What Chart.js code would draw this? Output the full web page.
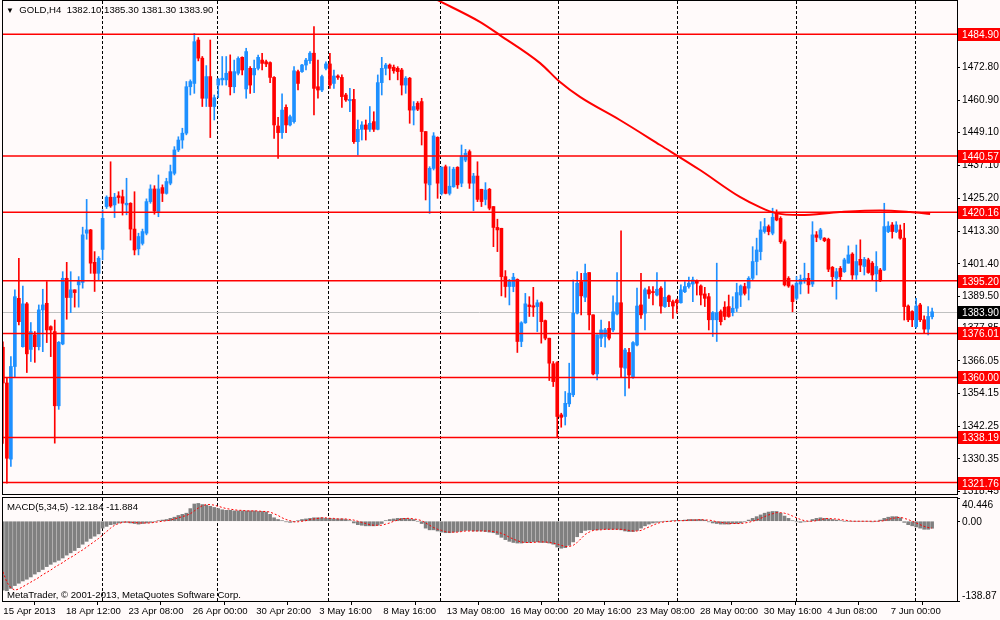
<!DOCTYPE html>
<html>
<head>
<meta charset="utf-8">
<title>GOLD,H4</title>
<script src="https://cdn.jsdelivr.net/npm/chart.js@4.4.0/dist/chart.umd.min.js"></script>
<style>
  html, body { margin: 0; padding: 0; background: #fffafa; }
  #wrap { position: relative; width: 1000px; height: 620px; overflow: hidden; font-family: 'Liberation Sans', Arial, sans-serif; }
  #priceBox { position: absolute; left: 0; top: 0; width: 1000px; height: 496px; }
  #macdBox { position: absolute; left: 0; top: 496px; width: 1000px; height: 124px; }
  .lbl { position: absolute; font-size: 9.6px; color: #000; white-space: nowrap; line-height: 12px; }
</style>
</head>
<body>
<div id="wrap">
  <div id="priceBox"><canvas id="priceChart"></canvas></div>
  <div id="macdBox"><canvas id="macdChart"></canvas></div>
  <div class="lbl" style="left:6px;top:4px;"><span style="font-size:8px;">&#9660;</span>&nbsp; GOLD,H4&nbsp; 1382.10 1385.30 1381.30 1383.90</div>
  <div class="lbl" style="left:7px;top:501px;">MACD(5,34,5) -12.184 -11.884</div>
  <div class="lbl" style="left:7px;top:589px;">MetaTrader, &copy; 2001-2013, MetaQuotes Software Corp.</div>
</div>
<script>
// H4 candles, one entry per bar (0 = 15 Apr 2013 00:00)
const opens = [
1371.0,1358.0,1330.3,1364.0,1388.8,1371.2,1386.8,1370.2,1375.5,1371.2,
1384.6,1387.0,1378.5,1376.7,1349.7,1372.2,1396.1,1389.1,1391.9,1393.7,
1394.6,1412.5,1413.7,1401.9,1397.9,1406.6,1422.2,1425.6,1422.8,1426.1,
1425.8,1422.8,1423.4,1414.0,1406.8,1408.8,1412.5,1424.0,1428.6,1420.4,
1429.1,1427.0,1430.7,1434.3,1442.8,1446.4,1448.9,1465.8,1467.0,1482.8,
1476.2,1461.6,1469.5,1458.6,1466.4,1468.3,1468.3,1471.3,1465.8,1470.7,
1476.5,1465.0,1472.5,1470.1,1472.5,1475.5,1474.9,1474.6,1469.2,1451.5,
1449.1,1458.3,1451.9,1453.1,1471.3,1471.3,1473.7,1475.3,1478.0,1465.8,
1464.6,1472.5,1474.1,1467.0,1469.7,1469.2,1462.8,1460.7,1461.2,1445.8,
1450.3,1451.9,1450.3,1453.1,1450.3,1467.3,1472.5,1473.7,1472.9,1472.5,
1471.9,1466.4,1468.9,1457.3,1459.8,1460.4,1449.5,1430.1,1436.1,1447.4,
1427.0,1436.7,1427.0,1429.4,1436.5,1430.7,1439.1,1442.2,1430.7,1433.3,
1428.5,1424.8,1428.5,1422.2,1414.6,1414.3,1396.7,1393.1,1393.1,1395.7,
1373.1,1379.9,1386.4,1386.1,1385.8,1387.2,1380.7,1374.3,1365.0,1365.4,
1346.4,1345.8,1350.4,1353.7,1383.4,1394.9,1389.2,1398.2,1382.8,1361.3,
1374.3,1374.9,1377.9,1377.3,1383.1,1387.2,1363.4,1369.1,1360.1,1371.8,
1386.4,1383.4,1391.9,1391.2,1390.0,1392.5,1385.8,1389.7,1387.6,1388.2,
1387.2,1391.2,1393.1,1394.0,1395.2,1393.3,1390.4,1389.4,1381.0,1381.0,
1384.0,1385.6,1385.8,1383.6,1385.2,1390.0,1393.1,1392.5,1396.1,1402.2,
1405.8,1413.1,1414.9,1412.5,1419.8,1417.9,1409.4,1396.1,1393.3,1388.8,
1394.0,1395.5,1396.1,1394.0,1411.9,1410.7,1410.7,1410.3,1400.1,1396.1,
1399.7,1398.5,1401.6,1404.9,1397.3,1403.0,1400.4,1402.8,1401.6,1397.7,
1399.1,1399.1,1413.1,1415.5,1413.1,1413.7,1410.7,1386.0,1384.0,1378.5,
1386.4,1381.0,1377.6,1382.1
];
const highs = [
1373.0,1360.0,1367.6,1391.9,1403.4,1393.3,1387.3,1380.0,1376.7,1386.4,
1392.1,1394.9,1378.8,1380.9,1373.1,1398.5,1401.9,1398.5,1391.9,1396.7,
1414.7,1424.8,1413.9,1405.8,1404.0,1421.0,1426.1,1438.5,1427.0,1427.6,
1428.2,1432.5,1423.6,1427.6,1412.5,1414.0,1425.0,1430.1,1429.8,1433.7,
1430.1,1432.5,1437.3,1444.0,1447.6,1450.7,1467.7,1468.3,1485.2,1483.7,
1476.8,1473.5,1482.8,1462.8,1468.9,1476.8,1476.8,1477.4,1475.5,1476.7,
1476.7,1479.8,1473.1,1475.5,1477.3,1478.0,1475.5,1474.9,1469.5,1454.7,
1463.2,1459.2,1455.5,1473.1,1471.9,1474.0,1476.1,1478.6,1487.7,1475.5,
1470.0,1474.9,1478.0,1471.9,1470.1,1470.1,1463.4,1465.2,1464.9,1453.7,
1453.1,1453.7,1458.6,1456.7,1470.1,1476.5,1474.3,1474.1,1473.7,1473.1,
1472.5,1469.5,1469.2,1460.4,1460.4,1461.6,1449.5,1436.7,1449.1,1447.6,
1436.7,1437.3,1436.7,1436.5,1436.7,1444.6,1443.0,1442.8,1434.3,1438.5,
1428.5,1430.9,1428.8,1422.2,1417.6,1414.3,1398.9,1395.7,1397.9,1395.9,
1380.3,1390.6,1389.4,1392.8,1388.2,1387.6,1380.9,1374.3,1365.8,1365.8,
1347.0,1354.9,1365.2,1395.5,1398.5,1397.9,1401.3,1398.2,1382.8,1375.5,
1380.9,1377.9,1380.3,1389.7,1398.2,1413.4,1370.6,1370.6,1373.1,1392.5,
1397.9,1392.5,1393.1,1393.1,1398.2,1393.1,1394.9,1390.0,1388.2,1388.5,
1393.7,1394.9,1396.5,1396.5,1395.5,1393.7,1392.8,1390.6,1384.0,1401.6,
1384.6,1387.6,1390.0,1389.4,1394.3,1393.7,1394.3,1396.7,1407.6,1410.7,
1416.7,1417.9,1415.5,1421.6,1421.0,1418.5,1410.1,1396.7,1393.7,1396.7,
1397.3,1401.6,1397.9,1416.7,1413.1,1414.3,1410.9,1410.7,1400.4,1399.7,
1400.4,1403.4,1407.9,1405.4,1408.2,1410.1,1403.7,1403.4,1402.2,1405.8,
1399.7,1423.4,1416.7,1416.4,1416.7,1415.5,1416.1,1386.4,1384.3,1388.8,
1387.0,1382.4,1385.8,1385.3
];
const lows = [
1336.0,1321.5,1327.6,1360.3,1379.1,1371.0,1361.8,1365.8,1365.5,1370.0,
1369.4,1372.7,1367.6,1336.1,1348.4,1371.9,1381.2,1383.6,1385.6,1385.6,
1392.5,1410.3,1397.9,1391.3,1395.5,1402.8,1421.5,1421.9,1418.2,1423.4,
1419.1,1419.2,1410.0,1404.6,1404.6,1408.2,1411.9,1423.4,1419.4,1418.5,
1424.0,1426.7,1430.1,1433.7,1442.2,1443.4,1448.3,1462.8,1463.4,1475.2,
1458.6,1458.6,1447.3,1453.7,1461.8,1466.4,1466.4,1462.8,1463.6,1470.1,
1470.1,1461.6,1463.4,1463.6,1471.9,1471.9,1473.1,1467.3,1447.0,1439.7,
1447.0,1449.1,1451.5,1452.5,1464.6,1471.0,1471.9,1474.3,1455.5,1461.6,
1464.0,1471.9,1465.2,1465.2,1468.5,1458.3,1460.5,1456.7,1445.2,1441.0,
1446.4,1446.4,1449.5,1449.5,1450.1,1462.8,1470.1,1468.3,1470.7,1468.3,
1462.8,1463.4,1452.5,1451.9,1457.1,1444.6,1424.6,1419.7,1435.5,1425.2,
1426.4,1426.8,1426.4,1429.2,1428.8,1429.4,1438.5,1428.8,1420.7,1424.0,
1422.2,1422.8,1421.0,1407.6,1405.8,1389.7,1389.2,1386.4,1391.2,1369.1,
1371.2,1379.7,1382.2,1382.2,1376.7,1372.5,1373.7,1358.9,1356.7,1338.1,
1341.9,1342.7,1349.4,1353.0,1383.1,1382.8,1387.6,1377.3,1360.9,1359.1,
1371.2,1371.0,1373.7,1376.7,1382.8,1360.1,1353.3,1356.1,1359.7,1371.5,
1381.5,1377.3,1388.8,1386.4,1389.7,1383.4,1385.5,1385.8,1381.5,1383.4,
1387.0,1390.9,1392.5,1387.6,1390.0,1386.4,1385.8,1377.3,1374.9,1373.1,
1379.1,1381.0,1381.9,1382.4,1384.0,1385.8,1390.0,1388.2,1395.5,1397.3,
1402.8,1412.5,1411.9,1411.9,1417.0,1408.8,1393.3,1392.8,1383.9,1388.2,
1390.4,1394.3,1390.6,1393.1,1409.4,1410.1,1409.4,1398.5,1393.1,1388.5,
1395.5,1398.2,1401.6,1395.7,1395.7,1398.5,1397.3,1397.9,1395.5,1391.3,
1394.9,1398.9,1412.7,1410.7,1412.7,1410.3,1380.9,1380.3,1378.5,1377.9,
1380.3,1376.1,1375.5,1381.3
];
const closes = [
1358.0,1330.6,1364.0,1389.4,1380.3,1386.8,1368.6,1376.7,1371.2,1384.6,
1386.4,1377.3,1377.3,1349.7,1372.8,1396.1,1389.1,1391.9,1390.9,1394.9,
1411.9,1413.7,1401.6,1397.9,1403.4,1417.9,1425.6,1422.4,1425.6,1425.5,
1423.4,1423.4,1414.0,1406.4,1411.3,1413.1,1424.0,1428.6,1420.6,1428.6,
1427.0,1431.3,1434.9,1442.8,1446.4,1448.9,1465.8,1467.7,1482.2,1476.2,
1461.6,1469.5,1458.6,1461.8,1468.6,1468.9,1470.7,1465.8,1471.3,1476.1,
1471.9,1478.6,1466.4,1472.5,1476.5,1474.3,1474.1,1469.2,1451.9,1449.1,
1457.3,1451.9,1454.9,1471.6,1467.0,1473.7,1475.5,1478.0,1465.2,1464.6,
1469.5,1474.1,1466.4,1469.7,1469.2,1462.2,1461.0,1461.2,1445.8,1450.3,
1451.9,1450.3,1452.5,1450.3,1467.3,1472.5,1473.7,1472.5,1471.6,1471.3,
1466.4,1468.9,1457.3,1458.6,1457.6,1449.5,1430.7,1436.1,1447.9,1430.7,
1436.5,1427.0,1429.6,1435.8,1430.1,1440.6,1441.6,1430.7,1433.3,1424.8,
1424.0,1428.2,1421.6,1414.6,1413.7,1396.7,1393.1,1394.9,1396.5,1373.1,
1379.9,1386.8,1385.8,1385.6,1387.2,1380.3,1374.3,1365.2,1358.5,1345.8,
1345.5,1350.6,1354.3,1383.4,1394.3,1389.7,1397.9,1382.8,1361.3,1375.5,
1377.3,1377.3,1374.3,1383.9,1387.2,1363.7,1370.0,1360.9,1372.7,1386.0,
1382.8,1391.9,1390.4,1390.9,1392.1,1386.0,1389.2,1387.6,1386.0,1387.2,
1391.9,1393.1,1394.3,1395.5,1394.3,1390.0,1388.8,1381.0,1383.6,1383.6,
1380.3,1382.2,1382.2,1385.2,1390.9,1393.3,1390.6,1396.1,1402.2,1406.4,
1413.7,1414.9,1413.1,1418.3,1417.3,1409.4,1393.7,1393.3,1387.6,1394.3,
1395.7,1396.1,1393.7,1411.9,1411.0,1413.7,1409.8,1399.4,1396.7,1398.5,
1396.7,1402.8,1404.6,1397.3,1402.2,1400.9,1403.0,1398.2,1397.3,1400.4,
1395.2,1414.9,1415.1,1413.1,1415.5,1410.7,1385.8,1381.0,1381.0,1386.0,
1381.0,1377.6,1382.2,1383.9
];

// MACD(5,34,5): histogram (main) and signal, one value per bar
const macdMain = [
-120,-121,-117,-112,-108,-104,-101,-97,-92,-88,
-84,-79,-75,-71,-68,-64,-59,-55,-51,-46,
-40,-35,-30,-26,-22,-12,-9,-6,-5,-3,
-2,-2,-3,-4,-5,-4,-3,-2,-1,1,
2,3,5,7,10,12,14,22,30,31,
29,28,26,24,22,20,19,19,18,18,
18,18,18,18,17,17,16,12,6,3,
1,-1,-2,-1,1,3,4,5,6,6,
6,5,5,4,4,4,3,1,-3,-6,
-7,-8,-8,-8,-7,-4,1,3,4,5,
5,5,4,3,0,-4,-12,-15,-15,-17,
-19,-20,-20,-19,-18,-17,-16,-16,-17,-17,
-17,-18,-19,-20,-23,-28,-32,-35,-37,-38,
-38,-37,-37,-36,-36,-37,-37,-38,-40,-45,
-47,-46,-42,-36,-27,-20,-16,-15,-15,-15,
-14,-14,-14,-14,-14,-15,-17,-18,-18,-16,
-12,-8,-5,-3,-2,-1,0,0,1,1,
1,2,3,3,3,3,2,-1,-3,-4,
-5,-5,-5,-4,-4,-3,-1,2,5,8,
11,14,16,17,17,14,9,5,1,-1,
-2,-1,0,3,5,6,5,4,3,2,
1,0,0,0,0,0,0,0,-1,0,
2,5,7,8,8,6,-2,-6,-8,-10,
-12,-14,-14,-12.184
];
const macdSignal = [
-88,-106,-116,-120,-118,-114,-110,-106,-102,-98,
-93,-89,-85,-80,-76,-72,-67,-63,-59,-54,
-50,-45,-40,-35,-30,-24,-18,-12,-7,-4,
-2,-1,-2,-2,-3,-3,-3,-3,-2,-1,
0,1,2,4,6,8,10,13,18,23,
27,29,29,28,26,24,22,21,20,19,
19,18,18,18,18,17,17,16,13,10,
6,3,1,-1,-1,0,1,3,4,5,
6,6,5,5,4,4,4,3,2,0,
-2,-4,-6,-7,-7,-7,-5,-3,0,2,
4,5,5,4,3,1,-3,-7,-11,-14,
-16,-18,-19,-19,-19,-18,-17,-17,-17,-17,
-17,-17,-17,-18,-19,-21,-24,-28,-31,-34,
-36,-37,-37,-37,-36,-36,-36,-37,-38,-40,
-42,-44,-44,-42,-37,-30,-23,-19,-16,-15,
-15,-14,-14,-14,-14,-14,-15,-16,-17,-17,
-16,-13,-10,-7,-4,-2,-1,0,0,1,
1,1,2,2,2,3,2,2,1,-1,
-2,-3,-4,-4,-4,-4,-3,-2,0,2,
5,8,11,13,15,15,14,12,9,6,
3,1,0,0,1,3,4,5,4,4,
3,2,1,0,0,0,0,0,0,0,
0,1,3,5,6,7,5,3,0,-3,
-6,-9,-11,-11.884
];

// moving average (bar position, price)
const maBars = [108.9, 119.6, 124.6, 134.7, 139.7, 144.7, 154.7, 164.8, 174.8, 184.8, 189.8, 193.6, 199.9, 209.9, 219.9, 227.5, 232.5];
const maPrices = [1497.4, 1489.4, 1484.6, 1474.4, 1467.5, 1462.1, 1453.7, 1444.6, 1435.5, 1425.7, 1422.0, 1419.9, 1419.1, 1420.2, 1420.8, 1420.2, 1419.5];

// horizontal levels, price scale, time scale
const levelPrices = [1484.90, 1440.57, 1420.16, 1395.20, 1376.01, 1360.00, 1338.19, 1321.76];
const lastPrice = 1383.90;
const priceTicks = [1472.80, 1460.90, 1449.10, 1437.10, 1425.20, 1413.30, 1401.40, 1389.50, 1377.85, 1366.05, 1354.15, 1342.25, 1330.35, 1318.45];
const macdTicks = [40.446, 0, -138.87];
const dateTicks = [0.1, 15.8, 31.5, 47.6, 63.5, 79.3, 95.4, 111.3, 127.2, 143.0, 158.9, 174.8, 190.8, 206.7, 222.6];
const dateLabels = ['15 Apr 2013', '18 Apr 12:00', '23 Apr 08:00', '26 Apr 00:00', '30 Apr 20:00', '3 May 16:00', '8 May 16:00',
  '13 May 08:00', '16 May 00:00', '20 May 16:00', '23 May 08:00', '28 May 00:00', '30 May 16:00', '4 Jun 08:00', '7 Jun 00:00'];
const separatorBars = [24.9, 53.8, 81.6, 109.5, 139.3, 169.1, 198.9, 228.8];

const FONT = "'Liberation Sans', Arial, Helvetica, sans-serif";
const BULL = '#1e90ff', BEAR = '#ff0000';
Chart.defaults.font.family = FONT;
Chart.defaults.color = '#000';
Chart.defaults.animation = false;

function candleColor(i) {
  return closes[i] >= opens[i] ? BULL : BEAR;
}

// fill the whole canvas with the chart background
const backPlugin = {
  id: 'back',
  beforeDraw(chart) {
    const ctx = chart.ctx;
    ctx.save();
    ctx.fillStyle = '#fffafa';
    ctx.fillRect(0, 0, chart.width, chart.height);
    ctx.restore();
  }
};

// dashed vertical separators
const separatorPlugin = {
  id: 'separators',
  beforeDatasetsDraw(chart) {
    const {ctx, chartArea: a, scales: {x}} = chart;
    ctx.save();
    ctx.strokeStyle = '#000';
    ctx.lineWidth = 1;
    ctx.setLineDash([3, 2]);
    separatorBars.forEach(b => {
      const px = Math.round(x.getPixelForValue(b)) + 0.5;
      ctx.beginPath();
      ctx.moveTo(px, a.top);
      ctx.lineTo(px, a.bottom);
      ctx.stroke();
    });
    ctx.restore();
  }
};

// black frame round the panel
const framePlugin = {
  id: 'frame',
  afterDraw(chart) {
    const {ctx, chartArea: a} = chart;
    ctx.save();
    ctx.strokeStyle = '#000';
    ctx.lineWidth = 1;
    ctx.strokeRect(Math.round(a.left) + 0.5, Math.round(a.top) - 0.5, Math.round(a.right - a.left), Math.round(a.bottom - a.top) + 1);
    ctx.restore();
  }
};

function axisBox(ctx, y, text, fill) {
  ctx.fillStyle = fill;
  ctx.fillRect(958, Math.round(y) - 6, 42, 13);
  ctx.fillStyle = '#fff';
  ctx.fillText(text, 962, Math.round(y) + 1);
}

const levelPlugin = {
  id: 'levels',
  beforeDatasetsDraw(chart) {
    const {ctx, chartArea: a, scales: {y}} = chart;
    const py = Math.round(y.getPixelForValue(lastPrice)) + 0.5;
    ctx.save();
    ctx.strokeStyle = '#c0c0c0';
    ctx.lineWidth = 1;
    ctx.beginPath();
    ctx.moveTo(a.left, py);
    ctx.lineTo(a.right, py);
    ctx.stroke();
    ctx.restore();
  },
  afterDatasetsDraw(chart) {
    const {ctx, chartArea: a, scales: {y}} = chart;
    ctx.save();
    ctx.strokeStyle = '#ff0000';
    ctx.lineWidth = 1.5;
    levelPrices.forEach(p => {
      const py = y.getPixelForValue(p);
      ctx.beginPath();
      ctx.moveTo(a.left, py);
      ctx.lineTo(a.right, py);
      ctx.stroke();
    });
    ctx.restore();
  },
  afterDraw(chart) {
    const {ctx, scales: {y}} = chart;
    ctx.save();
    ctx.font = '10.2px ' + FONT;
    ctx.textBaseline = 'middle';
    levelPrices.forEach(p => axisBox(ctx, y.getPixelForValue(p), p.toFixed(2), '#ff0000'));
    axisBox(ctx, y.getPixelForValue(lastPrice), lastPrice.toFixed(2), '#000');
    ctx.restore();
  }
};

const macdLabelPlugin = {
  id: 'macdLabels',
  afterDraw(chart) {
    const {ctx, scales: {y}} = chart;
    ctx.save();
    ctx.font = '10.2px ' + FONT;
    ctx.fillStyle = '#000';
    ctx.textBaseline = 'middle';
    ctx.fillText(macdTicks[0].toFixed(3), 962, y.getPixelForValue(macdTicks[0]) + 7);
    ctx.fillText(macdTicks[1].toFixed(2), 962, y.getPixelForValue(macdTicks[1]) + 0.5);
    ctx.fillText(macdTicks[2].toFixed(2), 962, y.getPixelForValue(macdTicks[2]) - 5);
    ctx.restore();
  }
};

const xMin = -0.226, xMax = 239.24;

function noPad(s) {
  s.paddingTop = 0; s.paddingBottom = 0; s.paddingLeft = 0; s.paddingRight = 0;
}

new Chart(document.getElementById('priceChart'), {
  type: 'bar',
  data: {
    datasets: [
      {
        type: 'line',
        data: maBars.map((b, k) => ({x: b, y: maPrices[k]})),
        borderColor: '#ff0000',
        borderWidth: 2,
        pointRadius: 0,
        cubicInterpolationMode: 'monotone',
        fill: false
      },
      {
        data: opens.map((o, i) => ({x: i, y: [o, closes[i]]})),
        backgroundColor: c => candleColor(c.dataIndex),
        barThickness: 3,
        minBarLength: 1,
        borderWidth: 0,
        grouped: false
      },
      {
        data: lows.map((l, i) => ({x: i, y: [l, highs[i]]})),
        backgroundColor: c => candleColor(c.dataIndex),
        barThickness: 1,
        borderWidth: 0,
        grouped: false
      }
    ]
  },
  options: {
    responsive: true,
    maintainAspectRatio: false,
    animation: false,
    events: [],
    layout: { padding: { left: 2, top: 1, right: 0, bottom: 2 } },
    plugins: { legend: { display: false }, tooltip: { enabled: false } },
    scales: {
      x: { type: 'linear', min: xMin, max: xMax, offset: false, display: false },
      y: {
        type: 'linear',
        position: 'right',
        min: 1317.6,
        max: 1497.0,
        afterBuildTicks: s => { s.ticks = priceTicks.map(v => ({value: v})); },
        afterFit: s => { s.width = 43; noPad(s); },
        ticks: { autoSkip: false, padding: 2, color: '#000', font: { size: 10.2 }, callback: v => v.toFixed(2) },
        grid: { drawOnChartArea: false, drawTicks: true, tickLength: 3, color: '#000' },
        border: { display: false }
      }
    }
  },
  plugins: [backPlugin, separatorPlugin, framePlugin, levelPlugin]
});

new Chart(document.getElementById('macdChart'), {
  type: 'bar',
  data: {
    datasets: [
      {
        type: 'line',
        data: macdSignal.map((v, i) => ({x: i, y: v})),
        borderColor: '#ff0000',
        borderWidth: 1,
        borderDash: [2, 2],
        pointRadius: 0,
        fill: false
      },
      {
        data: macdMain.map((v, i) => ({x: i, y: v})),
        backgroundColor: '#808080',
        barThickness: 3,
        borderWidth: 0,
        grouped: false
      }
    ]
  },
  options: {
    responsive: true,
    maintainAspectRatio: false,
    animation: false,
    events: [],
    layout: { padding: { left: 2, top: 2, right: 0, bottom: 0 } },
    plugins: { legend: { display: false }, tooltip: { enabled: false } },
    scales: {
      x: {
        type: 'linear',
        min: xMin,
        max: xMax,
        offset: false,
        afterBuildTicks: s => { s.ticks = dateTicks.map(v => ({value: v})); },
        afterFit: s => { s.height = 19; noPad(s); },
        ticks: { autoSkip: false, maxRotation: 0, minRotation: 0, align: 'start', padding: 1, color: '#000', font: { size: 9.6 },
                 callback: (v, k) => dateLabels[k] },
        grid: { drawOnChartArea: false, drawTicks: true, tickLength: 4, color: '#000' },
        border: { display: false }
      },
      y: {
        type: 'linear',
        position: 'right',
        min: -138.87,
        max: 40.446,
        afterBuildTicks: s => { s.ticks = macdTicks.map(v => ({value: v})); },
        afterFit: s => { s.width = 43; noPad(s); },
        ticks: { display: false },
        grid: { drawOnChartArea: false, drawTicks: true, tickLength: 3, color: '#000' },
        border: { display: false }
      }
    }
  },
  plugins: [backPlugin, separatorPlugin, framePlugin, macdLabelPlugin]
});
</script>
</body>
</html>
